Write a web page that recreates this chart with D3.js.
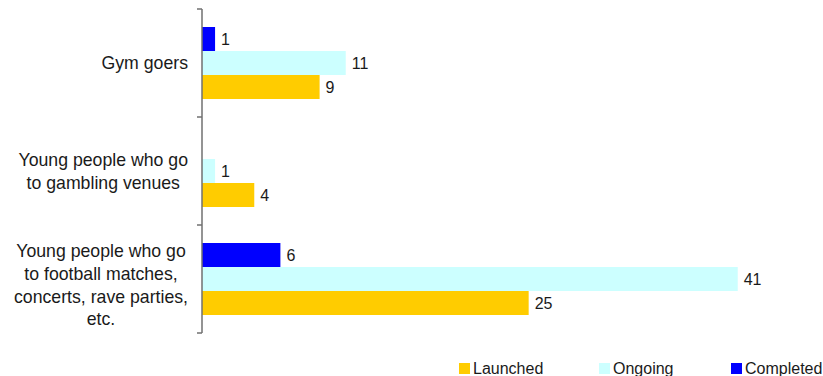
<!DOCTYPE html>
<html>
<head>
<meta charset="utf-8">
<script src="https://cdn.jsdelivr.net/npm/d3@7"></script>
<style>
  html, body { margin: 0; padding: 0; background: #fff; }
  svg { display: block; font-family: "Liberation Sans", Arial, sans-serif; }
</style>
</head>
<body>
<svg id="chart" width="823" height="376"></svg>
<script>
// Target groups (top to bottom), each label split into its display lines
const categories = ["Gym goers", "Young people who go to gambling venues", "Young people who go to football matches, concerts, rave parties, etc."];
const categoryLines = [
  ["Gym goers"],
  ["Young people who go", "to gambling venues"],
  ["Young people who go", "to football matches,", "concerts, rave parties,", "etc."]
];
// Number of activities per status
const seriesNames = ["Launched", "Ongoing", "Completed"];
const launched  = [9, 4, 25];
const ongoing   = [11, 1, 41];
const completed = [1, 0, 6];
const seriesColors = ["#FFCC00", "#CCFFFF", "#0000FF"];

const svg = d3.select("#chart");
const textColor = "#1a1a1a";

const x = d3.scaleLinear().domain([0, 45]).range([202, 790]);
const y = d3.scaleBand().domain(categories).range([9, 333]).padding(0);
// Bars inside each group: Completed on top, Launched at the bottom
const barOrder = ["Completed", "Ongoing", "Launched"];
const yInner = d3.scaleBand().domain(barOrder).range([0, y.bandwidth()])
  .paddingInner(0).paddingOuter(0.75);

const valuesBySeries = { Launched: launched, Ongoing: ongoing, Completed: completed };
const colorBySeries = {};
seriesNames.forEach((s, i) => colorBySeries[s] = seriesColors[i]);

const rows = [];
categories.forEach((c, ci) => {
  barOrder.forEach(s => rows.push({ cat: c, series: s, value: valuesBySeries[s][ci] }));
});
const shown = rows.filter(d => d.value > 0);

svg.append("g").selectAll("rect").data(shown).join("rect")
  .attr("x", x(0))
  .attr("y", d => y(d.cat) + yInner(d.series))
  .attr("width", d => x(d.value) - x(0))
  .attr("height", yInner.bandwidth())
  .attr("fill", d => colorBySeries[d.series]);

svg.append("g").selectAll("text").data(shown).join("text")
  .attr("x", d => x(d.value) + 6)
  .attr("y", d => y(d.cat) + yInner(d.series) + yInner.bandwidth() / 2)
  .attr("dy", "0.36em")
  .attr("font-size", 16)
  .attr("fill", textColor)
  .text(d => d.value);

// Category axis with outer tick marks at band boundaries
const axisColor = "#707070";
const axisG = svg.append("g");
axisG.append("line")
  .attr("x1", x(0)).attr("x2", x(0))
  .attr("y1", y.range()[0]).attr("y2", y.range()[1])
  .attr("stroke", axisColor).attr("stroke-width", 1.5);
const boundaries = categories.map(c => y(c)).concat([y.range()[1]]);
axisG.selectAll("line.tick").data(boundaries).join("line")
  .attr("class", "tick")
  .attr("x1", x(0) - 5).attr("x2", x(0))
  .attr("y1", d => d).attr("y2", d => d)
  .attr("stroke", axisColor).attr("stroke-width", 1.5);

// Category labels: each wrapped block sits against the axis, lines centred within it
const lineH = 22.8;
const labelRight = 188;
const labelG = svg.append("g");
categories.forEach((c, ci) => {
  const lines = categoryLines[ci];
  const cy = y(c) + y.bandwidth() / 2 + (lines.length > 2 ? 6 : 0);
  const t = labelG.append("text")
    .attr("text-anchor", "middle")
    .attr("font-size", 17.7)
    .attr("fill", textColor);
  const spans = lines.map((ln, li) => t.append("tspan")
    .attr("y", cy + (li - (lines.length - 1) / 2) * lineH)
    .attr("dy", "0.35em")
    .text(ln));
  const blockW = d3.max(spans, s => s.node().getComputedTextLength());
  spans.forEach(s => s.attr("x", labelRight - blockW / 2));
});

// Legend along the bottom
const legendX = [459, 599, 731];
const legend = svg.append("g").selectAll("g").data(seriesNames).join("g")
  .attr("transform", (d, i) => `translate(${legendX[i]},363)`);
legend.append("rect")
  .attr("width", 11).attr("height", 11)
  .attr("fill", (d, i) => seriesColors[i]);
legend.append("text")
  .attr("x", 14).attr("y", 10.5)
  .attr("font-size", 16)
  .attr("fill", textColor)
  .text(d => d);
</script>
</body>
</html>
